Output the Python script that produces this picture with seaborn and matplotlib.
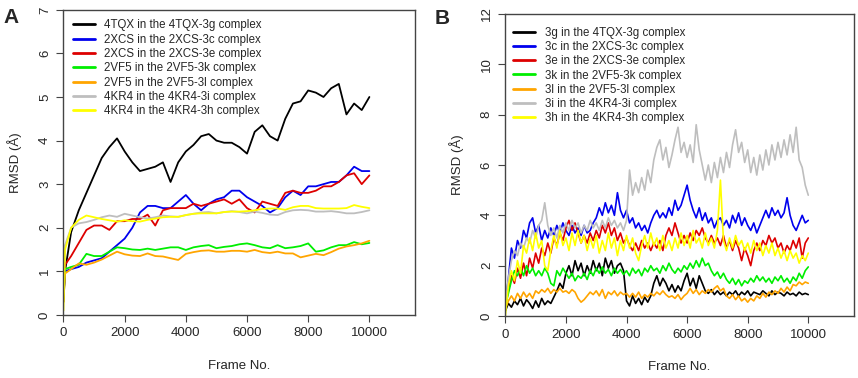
import numpy as np
import pandas as pd
import seaborn as sns
import matplotlib.pyplot as plt

# ---- panel A : protein RMSD ----
frames_a = [0, 50] + list(range(250, 10001, 250))
labels_a = ['4TQX in the 4TQX-3g complex', '2XCS in the 2XCS-3c complex',
            '2XCS in the 2XCS-3e complex', '2VF5 in the 2VF5-3k complex',
            '2VF5 in the 2VF5-3l complex', '4KR4 in the 4KR4-3i complex',
            '4KR4 in the 4KR4-3h complex']
a_4tqx_3g = [0.3, 1.0, 1.9, 2.4, 2.8, 3.2, 3.6, 3.85, 4.05, 3.75, 3.5, 3.3, 3.35, 3.4,
             3.5, 3.05, 3.5, 3.75, 3.9, 4.1, 4.15, 4.0, 3.95, 3.95, 3.85, 3.7, 4.2, 4.35,
             4.1, 4.0, 4.5, 4.85, 4.9, 5.15, 5.1, 5.0, 5.2, 5.3, 4.6, 4.85, 4.7, 5.0]
a_2xcs_3c = [0.4, 1.0, 1.05, 1.1, 1.2, 1.25, 1.3, 1.45, 1.6, 1.75, 2.0, 2.35, 2.5, 2.5,
             2.45, 2.45, 2.6, 2.75, 2.55, 2.4, 2.55, 2.65, 2.7, 2.85, 2.85, 2.7, 2.6, 2.5,
             2.35, 2.45, 2.7, 2.85, 2.75, 2.95, 2.95, 3.0, 3.05, 3.05, 3.2, 3.4, 3.3, 3.3]
a_2xcs_3e = [0.4, 1.15, 1.35, 1.65, 1.95, 2.05, 2.05, 1.95, 2.15, 2.15, 2.2, 2.2, 2.3, 2.05,
             2.4, 2.45, 2.45, 2.45, 2.55, 2.5, 2.55, 2.6, 2.65, 2.55, 2.65, 2.45, 2.35, 2.6,
             2.55, 2.5, 2.8, 2.85, 2.8, 2.8, 2.85, 2.95, 2.95, 3.05, 3.2, 3.25, 3.0, 3.2]
a_2vf5_3k = [0.4, 1.05, 1.1, 1.15, 1.4, 1.35, 1.35, 1.45, 1.55, 1.53, 1.5, 1.49, 1.52, 1.49,
             1.52, 1.55, 1.55, 1.49, 1.55, 1.58, 1.6, 1.53, 1.56, 1.58, 1.62, 1.64, 1.6, 1.55,
             1.53, 1.6, 1.53, 1.55, 1.58, 1.64, 1.45, 1.48, 1.55, 1.6, 1.6, 1.67, 1.62, 1.65]
a_2vf5_3l = [0.3, 0.95, 1.05, 1.18, 1.15, 1.2, 1.27, 1.36, 1.45, 1.39, 1.36, 1.35, 1.41, 1.35,
             1.34, 1.3, 1.26, 1.4, 1.44, 1.47, 1.48, 1.45, 1.45, 1.47, 1.47, 1.45, 1.49, 1.44,
             1.42, 1.45, 1.41, 1.41, 1.32, 1.36, 1.4, 1.37, 1.44, 1.52, 1.57, 1.6, 1.64, 1.7]
a_4kr4_3i = [0.5, 1.6, 2.0, 2.1, 2.13, 2.18, 2.24, 2.28, 2.25, 2.32, 2.28, 2.24, 2.21, 2.24,
             2.28, 2.26, 2.25, 2.29, 2.32, 2.35, 2.36, 2.33, 2.36, 2.38, 2.36, 2.33, 2.37, 2.34,
             2.3, 2.29, 2.36, 2.4, 2.41, 2.4, 2.37, 2.37, 2.38, 2.36, 2.33, 2.33, 2.36, 2.4]
a_4kr4_3h = [0.1, 1.5, 2.0, 2.18, 2.28, 2.24, 2.2, 2.17, 2.14, 2.17, 2.15, 2.14, 2.18, 2.21,
             2.24, 2.25, 2.25, 2.29, 2.32, 2.33, 2.33, 2.33, 2.36, 2.37, 2.37, 2.38, 2.4, 2.43,
             2.44, 2.44, 2.41, 2.47, 2.5, 2.5, 2.45, 2.44, 2.44, 2.44, 2.45, 2.52, 2.48, 2.45]

# ---- panel B : ligand RMSD ----
frames_b = list(range(0, 10001, 100))
labels_b = ['3g in the 4TQX-3g complex', '3c in the 2XCS-3c complex',
            '3e in the 2XCS-3e complex', '3k in the 2VF5-3k complex',
            '3l in the 2VF5-3l complex', '3i in the 4KR4-3i complex',
            '3h in the 4KR4-3h complex']
b_3g = [0.2, 0.5, 0.35, 0.6, 0.45, 0.7, 0.4, 0.65, 0.5, 0.3, 0.6, 0.35, 0.7, 0.45, 0.6, 0.5,
        0.75, 1.0, 1.3, 1.1, 1.7, 2.0, 1.6, 2.2, 1.8, 2.1, 1.6, 2.0, 1.7, 2.2, 1.8, 2.1, 1.6,
        2.3, 1.9, 2.2, 1.7, 2.0, 2.1, 1.8, 0.6, 0.4, 0.8, 0.5, 0.7, 0.45, 0.75, 0.55, 0.8, 1.3,
        1.6, 1.2, 1.5, 1.3, 1.0, 1.25, 0.95, 1.2, 1.0, 1.4, 1.7, 1.2, 1.5, 1.1, 1.6, 1.3, 1.0,
        0.9, 1.05, 0.85, 1.0, 0.85, 0.95, 0.8, 0.95, 0.85, 1.0, 0.8, 0.95, 0.85, 1.0, 0.8, 0.95,
        0.9, 0.85, 1.0, 0.9, 0.8, 1.0, 0.85, 0.95, 0.9, 0.8, 0.95, 0.85, 0.9, 0.8, 0.95, 0.85,
        0.9, 0.85]
b_3c = [0.5, 1.5, 2.7, 2.3, 3.0, 2.7, 3.4, 3.1, 3.7, 3.9, 3.3, 3.6, 3.0, 3.4, 3.1, 3.5, 3.2,
        3.6, 3.3, 3.7, 3.4, 3.2, 3.6, 3.3, 3.5, 3.2, 3.6, 3.3, 3.4, 3.7, 3.9, 4.3, 4.0, 4.5, 4.1,
        4.4, 4.0, 4.9, 4.2, 3.9, 4.2, 3.7, 3.9, 3.5, 3.7, 3.4, 3.6, 3.3, 3.7, 4.0, 4.2, 3.9, 4.1,
        3.9, 4.3, 4.0, 4.6, 4.2, 4.4, 4.8, 5.2, 4.6, 4.2, 3.9, 4.3, 3.8, 4.1, 3.7, 3.9, 3.5, 3.8,
        3.9, 3.6, 3.8, 3.5, 4.0, 3.7, 4.1, 3.6, 3.9, 3.6, 3.4, 3.7, 3.3, 3.6, 3.9, 4.2, 3.9, 4.3,
        4.0, 4.2, 3.9, 4.1, 4.7, 4.0, 3.6, 3.4, 3.7, 4.0, 3.7, 3.8]
b_3e = [0.4, 1.0, 1.6, 1.3, 1.9, 1.5, 2.1, 1.6, 2.3, 1.9, 2.5, 2.1, 2.7, 2.4, 2.9, 2.5, 3.1,
        2.8, 3.3, 3.0, 3.5, 3.8, 3.4, 3.7, 3.3, 2.9, 3.2, 2.9, 3.3, 3.0, 3.4, 3.1, 3.6, 3.3, 3.7,
        3.2, 3.5, 3.0, 3.3, 2.9, 3.1, 2.8, 2.6, 2.9, 2.6, 3.0, 2.7, 2.9, 2.6, 2.9, 2.7, 3.0, 2.6,
        3.2, 3.5, 3.2, 3.7, 3.3, 2.9, 3.2, 2.9, 3.3, 3.0, 3.4, 3.2, 3.5, 3.1, 2.9, 3.2, 2.9, 3.1,
        2.8, 3.2, 2.7, 3.0, 2.6, 3.0, 2.7, 2.2, 2.7, 2.4, 2.0, 2.6, 2.9, 2.6, 3.0, 2.8, 3.2, 2.9,
        3.1, 2.7, 2.9, 2.5, 2.8, 2.6, 3.0, 2.7, 3.1, 2.3, 2.9, 3.1]
b_3k = [0.4, 0.9, 1.4, 1.8, 1.6, 1.9, 1.6, 2.0, 1.7, 1.9, 1.6, 1.8, 1.6, 1.9, 1.7, 1.3, 1.2,
        1.8, 1.6, 1.9, 1.7, 1.5, 1.7, 1.4, 1.6, 1.5, 1.7, 1.45, 1.8, 1.6, 1.9, 1.7, 1.95, 1.7,
        1.85, 1.6, 1.9, 1.7, 1.85, 1.65, 1.8, 1.6, 1.9, 1.7, 1.85, 1.6, 1.9, 1.75, 2.0, 1.8, 1.9,
        1.7, 2.0, 1.8, 2.1, 1.85, 1.7, 1.9, 1.75, 2.0, 1.85, 2.1, 1.9, 2.2, 1.95, 2.3, 2.0, 2.1,
        1.8, 1.6, 1.75, 1.5, 1.7, 1.45, 1.3, 1.5, 1.25, 1.45, 1.2, 1.4, 1.3, 1.5, 1.35, 1.6, 1.4,
        1.55, 1.35, 1.5, 1.3, 1.55, 1.4, 1.6, 1.35, 1.5, 1.3, 1.55, 1.4, 1.7, 1.5, 1.8, 1.95]
b_3l = [0.3, 0.6, 0.8, 0.6, 0.9, 0.7, 0.95, 0.75, 0.9, 0.7, 1.0, 0.9, 1.05, 0.95, 1.1, 0.9,
        1.05, 0.95, 1.1, 0.95, 1.0, 0.9, 1.05, 0.95, 0.7, 0.55, 0.65, 0.8, 0.95, 0.85, 1.0, 0.8,
        1.05, 0.7, 0.95, 0.85, 1.0, 0.8, 0.95, 0.85, 0.9, 0.75, 0.9, 0.75, 0.95, 0.7, 0.85, 0.75,
        0.9, 0.8, 0.95, 0.85, 1.0, 0.85, 0.75, 0.8, 0.7, 0.85, 0.65, 0.8, 0.9, 1.1, 0.9, 1.05,
        0.85, 1.0, 0.9, 1.05, 0.95, 1.1, 1.2, 1.0, 1.1, 0.8, 0.7, 0.85, 0.65, 0.8, 0.6, 0.7, 0.55,
        0.7, 0.6, 0.8, 0.7, 0.9, 0.75, 0.95, 0.85, 1.0, 0.9, 1.1, 0.95, 1.15, 1.0, 1.25, 1.2,
        1.35, 1.25, 1.35, 1.3]
b_3i = [0.5, 1.5, 2.2, 2.6, 2.4, 2.9, 2.7, 3.1, 2.9, 3.4, 3.1, 3.6, 3.8, 4.5, 3.6, 3.2, 3.5,
        3.1, 3.6, 3.3, 3.7, 3.4, 3.8, 3.5, 3.7, 3.3, 3.6, 3.4, 3.8, 3.5, 3.7, 3.4, 3.8, 3.5, 3.9,
        3.6, 3.8, 3.5, 3.7, 3.4, 3.8, 5.8, 4.8, 5.3, 4.9, 5.5, 5.0, 5.8, 5.3, 6.2, 6.7, 7.0, 6.2,
        6.7, 5.9, 6.4, 7.0, 7.5, 6.5, 6.9, 6.3, 6.8, 6.1, 7.6, 6.6, 6.0, 5.4, 6.0, 5.3, 6.1, 5.5,
        6.3, 5.7, 6.5, 5.9, 6.8, 7.4, 6.5, 6.9, 6.1, 6.6, 5.7, 6.3, 5.6, 6.4, 5.8, 6.6, 6.0, 6.8,
        6.2, 6.9, 6.3, 7.0, 6.4, 7.2, 6.5, 7.5, 6.2, 5.9, 5.2, 4.8]
b_3h = [0.0, 1.2, 1.8, 1.4, 2.2, 1.7, 2.8, 2.5, 3.1, 2.6, 3.3, 2.7, 3.0, 2.0, 1.8, 2.6, 3.2,
        2.7, 3.4, 2.8, 3.1, 2.6, 3.3, 2.8, 3.4, 2.9, 3.2, 2.6, 3.1, 2.7, 3.2, 2.5, 3.0, 2.6, 3.3,
        2.7, 3.1, 2.4, 3.0, 2.6, 3.2, 2.7, 3.1, 2.5, 2.2, 2.8, 3.2, 2.7, 3.3, 2.8, 3.1, 2.6, 3.2,
        2.7, 3.0, 2.6, 3.1, 2.7, 3.3, 2.8, 3.2, 2.7, 3.4, 2.9, 3.1, 2.7, 3.3, 2.8, 3.1, 2.7, 3.4,
        5.4, 3.0, 2.6, 3.1, 2.7, 3.2, 2.8, 3.0, 2.6, 2.9, 2.5, 3.0, 2.6, 2.9, 2.4, 2.8, 2.5, 2.9,
        2.4, 2.7, 2.3, 2.6, 2.2, 2.6, 2.3, 2.5, 2.1, 2.4, 2.2, 2.5]

colors = ['#000000', '#0000EE', '#DD0000', '#00EE00', '#FFA500', '#BEBEBE', '#FFFF00']

sns.set_style('white')
plt.rcParams['font.family'] = ['Liberation Sans', 'DejaVu Sans']


def long_table(frames, series, labels):
    parts = []
    for lab, vals in zip(labels, series):
        parts.append(pd.DataFrame({'frame': frames, 'rmsd': vals, 'series': lab}))
    return pd.concat(parts, ignore_index=True)


df_a = long_table(frames_a, [a_4tqx_3g, a_2xcs_3c, a_2xcs_3e, a_2vf5_3k,
                             a_2vf5_3l, a_4kr4_3i, a_4kr4_3h], labels_a)
df_b = long_table(frames_b, [b_3g, b_3c, b_3e, b_3k, b_3l, b_3i, b_3h], labels_b)

fig = plt.figure(figsize=(8.58, 3.78), dpi=100)
ax_a = fig.add_axes([0.074, 0.167, 0.410, 0.807])
ax_b = fig.add_axes([0.589, 0.164, 0.406, 0.799])

panels = [(ax_a, df_a, labels_a, 7, 1.3, (0.005, 0.995)),
          (ax_b, df_b, labels_b, 12, 1.2, (0.0, 0.985))]
for ax, df, labels, ymax, lw, loc in panels:
    sns.lineplot(data=df, x='frame', y='rmsd', hue='series', hue_order=labels,
                 palette=colors, estimator=None, sort=False, lw=lw, ax=ax)
    ax.set_xlim(0, 11500)
    ax.set_ylim(0, ymax)
    ax.set_xticks(range(0, 10001, 2000))
    ax.set_yticks(range(0, ymax + 1, 2 if ymax > 8 else 1))
    ax.set_xlabel('Frame No.', fontsize=9.5, labelpad=15)
    ax.set_ylabel('RMSD (Å)', fontsize=9.5, labelpad=12)
    ax.tick_params(axis='both', length=5, width=0.8, color='#444444',
                   labelsize=9.5, direction='out', left=True, bottom=True, pad=4)
    plt.setp(ax.get_yticklabels(), rotation=90, va='center')
    for sp in ax.spines.values():
        sp.set_color('#444444')
        sp.set_linewidth(1.0)
    leg = ax.legend(loc='upper left', bbox_to_anchor=loc, frameon=False,
                    fontsize=8.3, handlelength=1.9, handletextpad=0.8,
                    labelspacing=0.2, borderaxespad=0.3)
    for h in leg.get_lines():
        h.set_linewidth(2)

fig.text(0.004, 0.98, 'A', fontsize=15, fontweight='bold', va='top')
fig.text(0.506, 0.975, 'B', fontsize=15, fontweight='bold', va='top')

fig.savefig('out.png', dpi=100)
